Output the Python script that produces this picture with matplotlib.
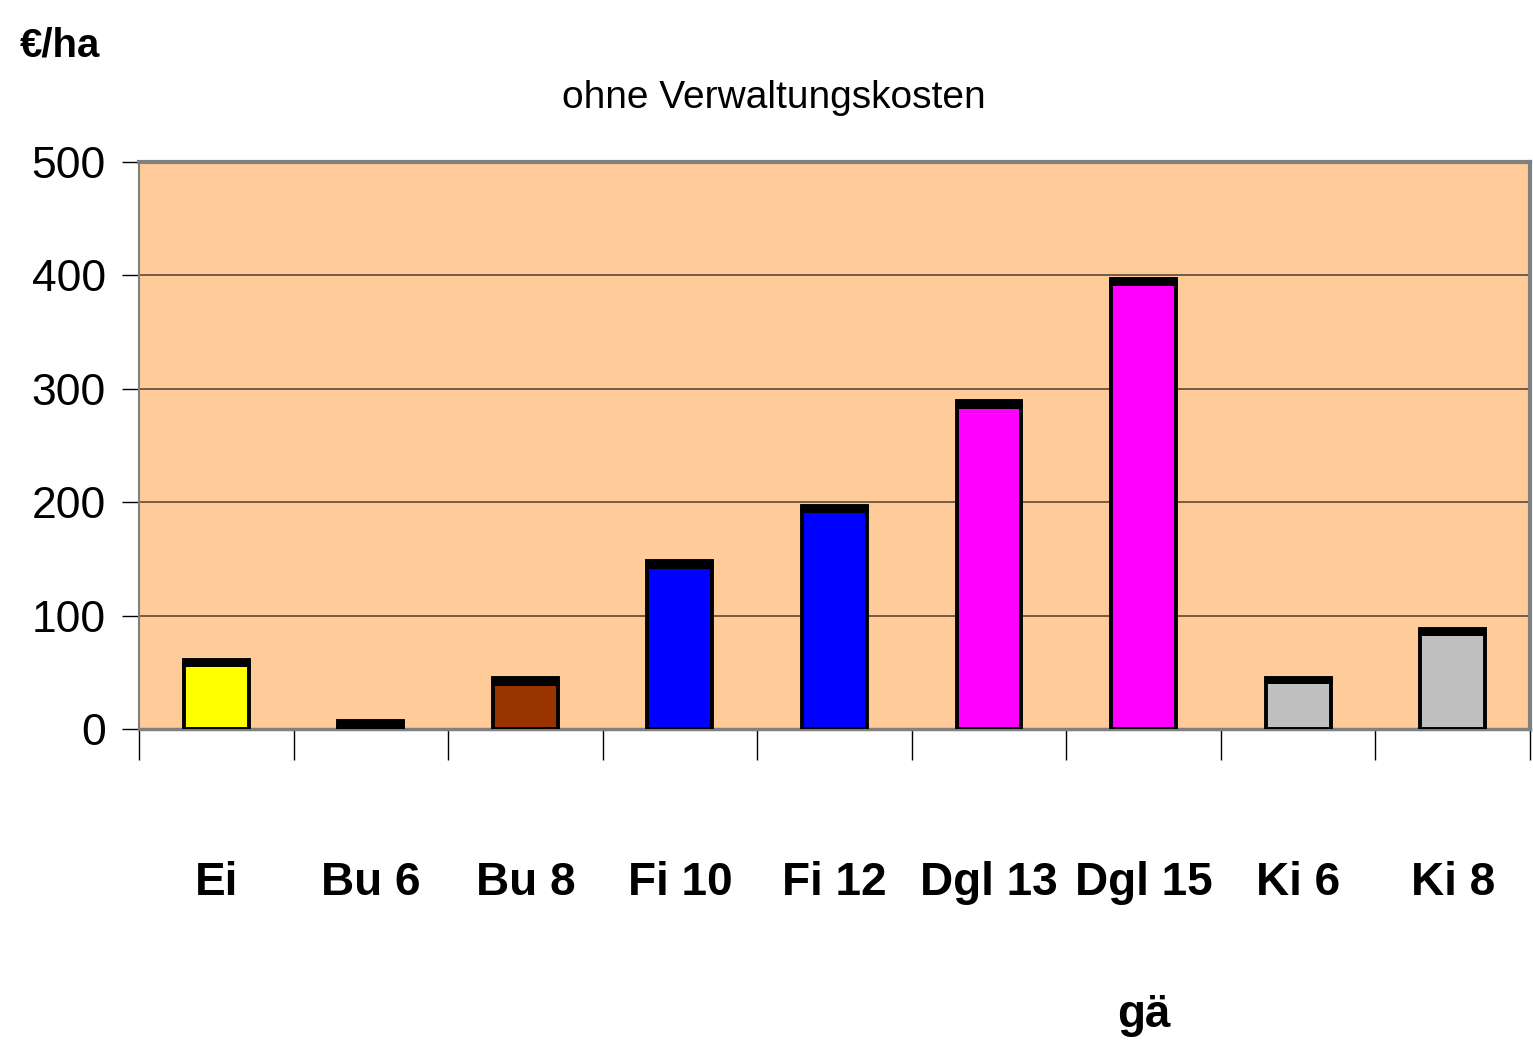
import matplotlib
matplotlib.use("Agg")
import matplotlib.pyplot as plt
import numpy as np
from matplotlib.ticker import FixedLocator, NullFormatter

plt.rcParams['font.family'] = ['Liberation Sans', 'DejaVu Sans']

categories = ["Ei", "Bu 6", "Bu 8", "Fi 10", "Fi 12", "Dgl 13", "Dgl 15\ngä", "Ki 6", "Ki 8"]
kosten = [56, 2, 40, 143, 192, 284, 392, 41, 84]
zuschlag = [5, 5, 5, 5, 5, 5, 5, 4, 4]
farben = ["#FFFF00", "#993300", "#993300", "#0000FF", "#0000FF",
          "#FF00FF", "#FF00FF", "#C0C0C0", "#C0C0C0"]
yticks = [0, 100, 200, 300, 400, 500]

fig = plt.figure(figsize=(15.33, 10.6), dpi=100)
ax = fig.add_axes([0.0907, 0.3123, 0.9073, 0.5349])
ax.set_facecolor("#FFCC99")

x = np.arange(len(categories))
ax.bar(x, kosten, width=0.42, color=farben, edgecolor="black", linewidth=2.8, zorder=3)
ax.bar(x, zuschlag, width=0.42, bottom=kosten, color="black", edgecolor="black",
       linewidth=2.8, zorder=3)

ax.set_xlim(-0.5, len(categories) - 0.5)
ax.set_ylim(0, 500)
ax.set_yticks(yticks)
ax.set_yticklabels([str(v) for v in yticks], fontsize=32)
ax.tick_params(axis="y", direction="out", length=12, width=1, pad=12, colors="black")
ax.yaxis.grid(True, color="#5a4a3a", linewidth=1.2, zorder=1)

ax.xaxis.set_major_locator(FixedLocator(np.arange(-0.5, len(categories), 1.0)))
ax.xaxis.set_major_formatter(NullFormatter())
ax.xaxis.set_minor_locator(FixedLocator(x))
ax.set_xticklabels(categories, minor=True, fontsize=33, fontweight="bold", linespacing=3.6,
                   va="top")
ax.tick_params(axis="x", which="major", direction="out", length=22, width=1)
ax.tick_params(axis="x", which="minor", length=0, pad=95)

for s in ["top", "right"]:
    ax.spines[s].set_color("#808080")
    ax.spines[s].set_linewidth(3)
ax.spines["bottom"].set_color("#808080")
ax.spines["bottom"].set_linewidth(2.5)
ax.spines["left"].set_color("#808080")
ax.spines["left"].set_linewidth(1.5)

fig.text(0.505, 0.908, "ohne Verwaltungskosten", ha="center", va="center", fontsize=28)
fig.text(0.013, 0.957, "€/ha", ha="left", va="center", fontsize=29, fontweight="bold")

fig.savefig("out.png", dpi=100)
